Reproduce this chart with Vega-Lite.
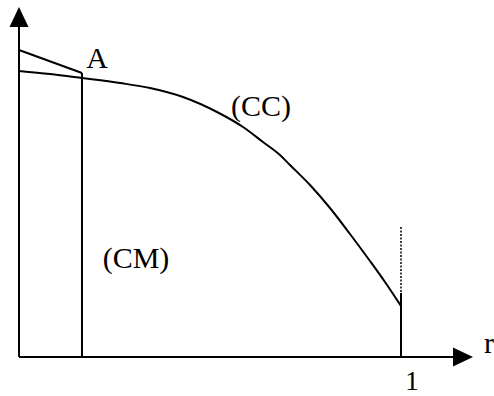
{
  "$schema": "https://vega.github.io/schema/vega-lite/v6.json",
  "width": 494,
  "height": 396,
  "padding": 0,
  "autosize": {"type": "none"},
  "background": "white",
  "config": {"view": {"stroke": null}},
  "datasets": {
    "curve": [
      {"r": 0, "v": 1.0},
      {"r": 0.0812, "v": 0.9895},
      {"r": 0.1649, "v": 0.9755},
      {"r": 0.2644, "v": 0.958},
      {"r": 0.3429, "v": 0.9406},
      {"r": 0.4293, "v": 0.9091},
      {"r": 0.5183, "v": 0.8566},
      {"r": 0.5864, "v": 0.8042},
      {"r": 0.6387, "v": 0.7517},
      {"r": 0.6832, "v": 0.7063},
      {"r": 0.7094, "v": 0.6713},
      {"r": 0.7618, "v": 0.6014},
      {"r": 0.8141, "v": 0.521},
      {"r": 0.8665, "v": 0.4301},
      {"r": 0.9188, "v": 0.3357},
      {"r": 0.9581, "v": 0.2622},
      {"r": 1.0, "v": 0.1783}
    ],
    "solid": [
      {"r": 0, "v": 0, "r2": 1.1361, "v2": 0},
      {"r": 0, "v": 0, "r2": 0, "v2": 1.1589},
      {"r": 0, "v": 1.0734, "r2": 0.1649, "v2": 0.993},
      {"r": 0.1649, "v": 0.993, "r2": 0.1649, "v2": 0},
      {"r": 1.0, "v": 0.2238, "r2": 1.0, "v2": 0}
    ],
    "dotted": [
      {"r": 1.0, "v": 0.4545, "r2": 1.0, "v2": 0.2238}
    ],
    "arrows": [
      {"r": 1.1623, "v": 0, "dir": "right"},
      {"r": 0, "v": 1.1888, "dir": "up"}
    ],
    "labels": [
      {"r": 0.2042, "v": 1.0105, "text": "A"},
      {"r": 0.6335, "v": 0.8427, "text": "(CC)"},
      {"r": 0.3063, "v": 0.3112, "text": "(CM)"}
    ],
    "ticklabel": [
      {"r": 1.0288, "v": -0.1154, "text": "1"}
    ],
    "axislabel": [
      {"r": 1.2173, "v": 0.014, "text": "r"}
    ]
  },
  "encoding": {
    "x": {"field": "r", "type": "quantitative", "axis": null, "scale": {"domain": [-0.04974, 1.24346], "nice": false, "zero": false}},
    "y": {"field": "v", "type": "quantitative", "axis": null, "scale": {"domain": [-0.13636, 1.24825], "nice": false, "zero": false}}
  },
  "layer": [
    {
      "data": {"name": "solid"},
      "mark": {"type": "rule", "color": "black", "strokeWidth": 2},
      "encoding": {
        "x2": {"field": "r2"},
        "y2": {"field": "v2"}
      }
    },
    {
      "data": {"name": "dotted"},
      "mark": {"type": "rule", "color": "black", "strokeWidth": 1.5, "strokeDash": [2, 1.5]},
      "encoding": {
        "x2": {"field": "r2"},
        "y2": {"field": "v2"}
      }
    },
    {
      "data": {"name": "curve"},
      "mark": {"type": "line", "color": "black", "strokeWidth": 2, "interpolate": "monotone"},
      "encoding": {}
    },
    {
      "data": {"name": "arrows"},
      "transform": [{"filter": "datum.dir === 'right'"}],
      "mark": {"type": "point", "shape": "M -1 -0.95 L 1 0 L -1 0.95 Z", "size": 400, "filled": true, "color": "black", "opacity": 1},
      "encoding": {}
    },
    {
      "data": {"name": "arrows"},
      "transform": [{"filter": "datum.dir === 'up'"}],
      "mark": {"type": "point", "shape": "M -0.95 1 L 0 -1 L 0.95 1 Z", "size": 400, "filled": true, "color": "black", "opacity": 1},
      "encoding": {}
    },
    {
      "data": {"name": "labels"},
      "mark": {"type": "text", "font": "Liberation Serif", "fontSize": 30, "baseline": "alphabetic", "align": "center", "color": "black"},
      "encoding": {
        "text": {"field": "text"}
      }
    },
    {
      "data": {"name": "ticklabel"},
      "mark": {"type": "text", "font": "Liberation Serif", "fontSize": 27, "baseline": "alphabetic", "align": "center", "color": "black"},
      "encoding": {
        "text": {"field": "text"}
      }
    },
    {
      "data": {"name": "axislabel"},
      "mark": {"type": "text", "font": "Liberation Serif", "fontSize": 30, "baseline": "alphabetic", "align": "left", "color": "black"},
      "encoding": {
        "text": {"field": "text"}
      }
    }
  ]
}
